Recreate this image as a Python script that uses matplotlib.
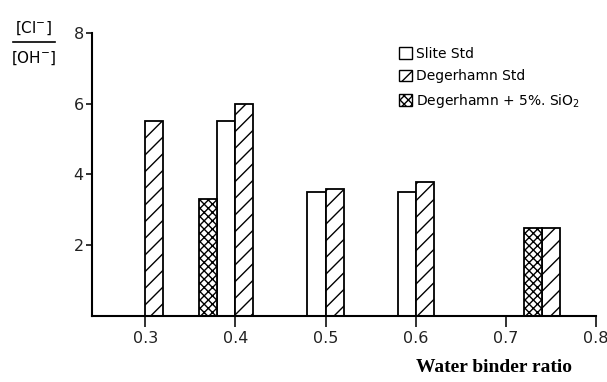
import matplotlib.pyplot as plt
from matplotlib.patches import Patch

# water binder ratio of each bar group, and [Cl-]/[OH-] values
slite_x = [0.4, 0.5, 0.6]
slite_y = [5.5, 3.5, 3.5]
deger_x = [0.3, 0.4, 0.5, 0.6, 0.74]
deger_y = [5.5, 6.0, 3.6, 3.8, 2.5]
silica_x = [0.4, 0.74]
silica_y = [3.3, 2.5]

xticks = [0.3, 0.4, 0.5, 0.6, 0.7, 0.8]
yticks = [2, 4, 6, 8]

w = 0.02
plt.rcParams['hatch.linewidth'] = 1.0

fig = plt.figure(figsize=(6.07, 3.82), dpi=100)
ax = fig.add_axes([0.1516, 0.1728, 0.8304, 0.7408])

edge = dict(edgecolor='black', linewidth=1.3, align='edge')
ax.bar([x - w for x in slite_x], slite_y, w, facecolor='white', **edge)
ax.bar(deger_x, deger_y, w, facecolor='white', hatch='//', **edge)
# the silica bar sits left of the Slite bar when there is one
sil_left = [x - 2 * w if x in slite_x else x - w for x in silica_x]
ax.bar(sil_left, silica_y, w, facecolor='white', hatch='xxxx', **edge)

ax.set_xlim(0.2411, 0.8)
ax.set_ylim(0, 8)
ax.set_xticks(xticks)
ax.set_xticklabels([str(t) for t in xticks])
ax.set_yticks(yticks)
for s in ['top', 'right']:
    ax.spines[s].set_visible(False)
for s in ['left', 'bottom']:
    ax.spines[s].set_linewidth(1.5)
ax.tick_params(axis='x', direction='out', length=8, width=1.3, labelsize=11.5,
               pad=3, colors='#222')
ax.tick_params(axis='y', direction='out', length=4, width=1.3, labelsize=11.5,
               pad=2, colors='#222')
for lab in ax.get_xticklabels() + ax.get_yticklabels():
    lab.set_family('DejaVu Sans Condensed')

fig.text(0.814, 0.037, 'Water binder ratio', family='Liberation Serif',
         fontweight='bold', fontsize=14, ha='center', va='center')

# y label as a fraction
fig.text(0.055, 0.925, '[Cl$^{-}$]', fontsize=11, ha='center', va='center',
         family='DejaVu Sans Condensed')
fig.add_artist(plt.Line2D([0.022, 0.09], [0.889, 0.889], color='black', lw=1.2))
fig.text(0.055, 0.848, '[OH$^{-}$]', fontsize=11, ha='center', va='center',
         family='DejaVu Sans Condensed')

handles = [
    Patch(facecolor='white', edgecolor='black', label='Slite Std'),
    Patch(facecolor='white', edgecolor='black', hatch='//', label='Degerhamn Std'),
    Patch(facecolor='white', edgecolor='black', hatch='xxxx',
          label='Degerhamn + 5%. SiO$_2$'),
]
ax.legend(handles=handles, loc='upper left', bbox_to_anchor=(0.585, 0.995),
          frameon=False, handlelength=0.9, handleheight=0.9,
          handletextpad=0.3, labelspacing=0.6,
          prop={'family': 'DejaVu Sans Condensed', 'size': 10})

fig.savefig('out.png', dpi=100)
